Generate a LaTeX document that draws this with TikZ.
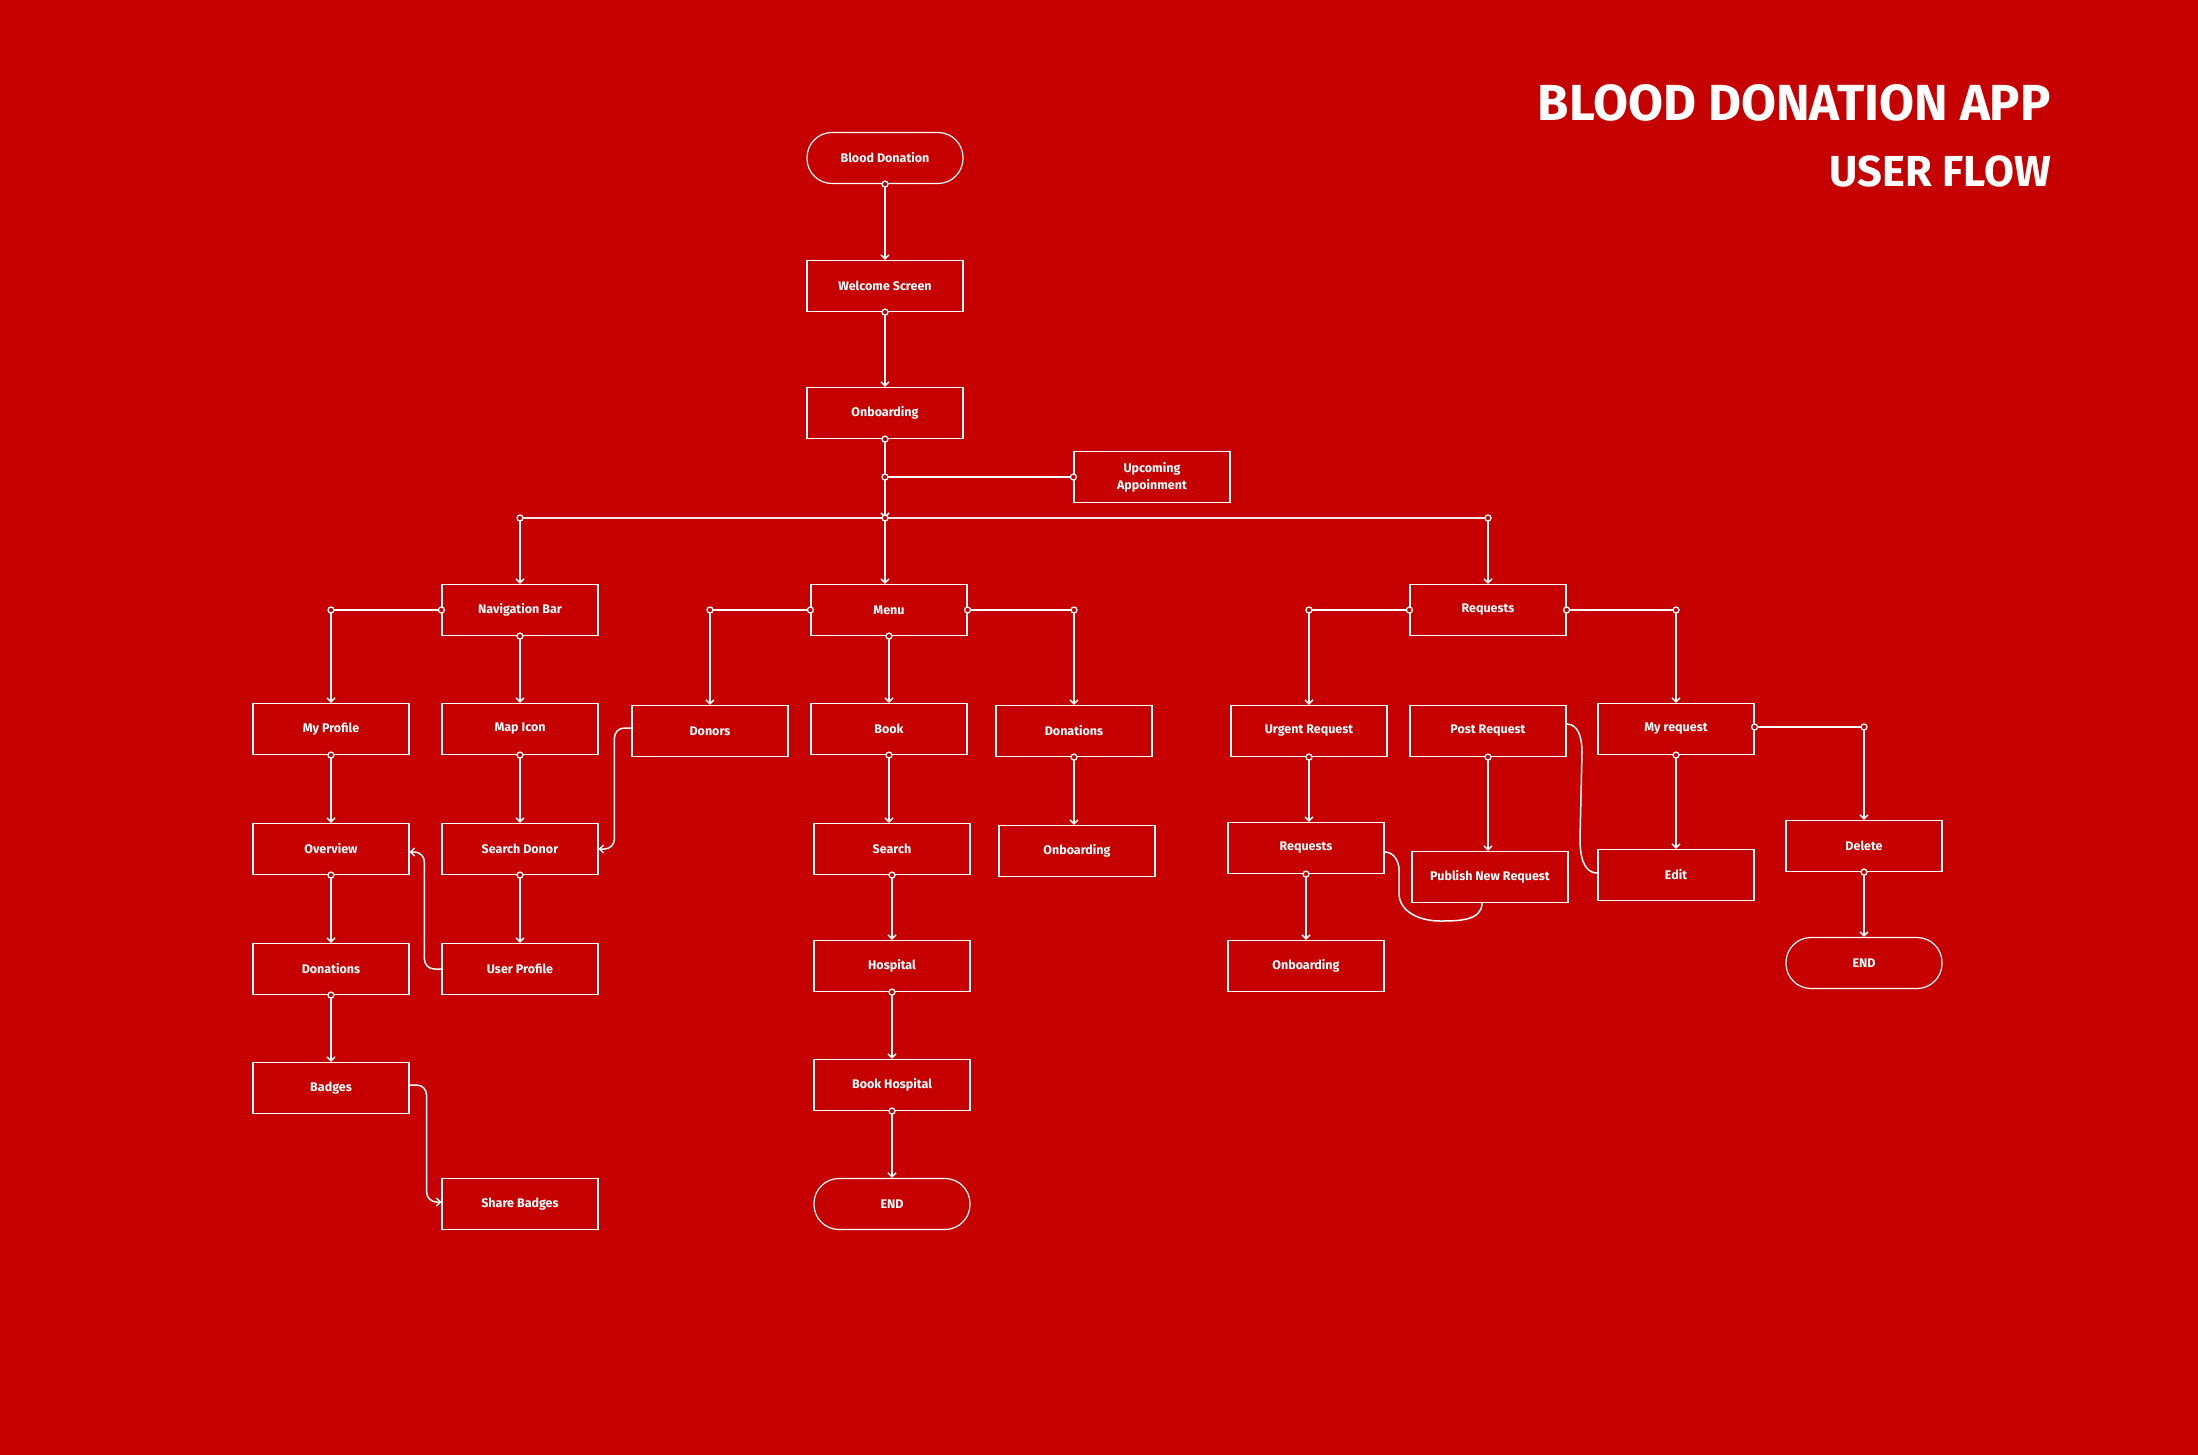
\documentclass[tikz,border=0pt]{standalone}
\usepackage{fontspec}
\setmainfont{Fira Sans}
\usetikzlibrary{arrows.meta,calc}
\definecolor{bg}{HTML}{C60000}
\newcommand\vlk[2]{\draw[arr] (#1.south) -- (#1.south |- #2.north) node[pos=0,dot]{};}
\newcommand\elk[3]{\draw[arr] (#1.#2) -| node[pos=0,dot]{} node[pos=0.5,dot]{} (#3.north);}
\begin{document}
\begin{tikzpicture}[x=1pt,y=-1pt,
  box/.style={draw=white, line width=1.2pt, minimum width=156pt, minimum height=51pt, inner sep=0pt, text=white, font=\bfseries\fontsize{12.5}{17}\selectfont, align=center},
  pill/.style={box, rounded corners=25pt},
  link/.style={draw=white, line width=1.5pt},
  arr/.style={link, -{Straight Barb[length=4pt,width=8pt]}},
  plain/.style={link},
  dot/.style={circle, draw=white, fill=bg, line width=1.3pt, minimum size=6pt, inner sep=0pt},
  titlea/.style={text=white, font=\bfseries\fontsize{50.7}{60}\selectfont, inner sep=0pt, anchor=base east},
  titleb/.style={text=white, font=\bfseries\fontsize{43.4}{50}\selectfont, inner sep=0pt, anchor=base east}
]
\fill[bg] (0,0) rectangle (2198,1455);
\useasboundingbox (0,0) rectangle (2198,1455);

% title
\node[titlea] (t1) at (2051,121) {BLOOD DONATION APP};
\node[titleb] (t2) at (2051,187) {USER FLOW};

% nodes
\node[pill] (bd) at (885,158) {Blood Donation};
\node[box] (welcome) at (885,286) {Welcome Screen};
\node[box] (onb) at (885,413) {Onboarding};
\node[box] (upc) at (1152,477) {Upcoming\\Appoinment};

\node[box] (nav) at (520,610) {Navigation Bar};
\node[box] (menu) at (889,610) {Menu};
\node[box] (req) at (1488,610) {Requests};

\node[box] (myprof) at (331,729) {My Profile};
\node[box] (map) at (520,729) {Map Icon};
\node[box] (donors) at (710,731) {Donors};
\node[box] (book) at (889,729) {Book};
\node[box] (donR) at (1074,731) {Donations};
\node[box] (urgent) at (1309,731) {Urgent Request};
\node[box] (post) at (1488,731) {Post Request};
\node[box] (myreq) at (1676,729) {My request};

\node[box] (overview) at (331,849) {Overview};
\node[box] (sdonor) at (520,849) {Search Donor};
\node[box] (search) at (892,849) {Search};
\node[box] (onbR) at (1077,851) {Onboarding};
\node[box] (reqs2) at (1306,848) {Requests};
\node[box] (publish) at (1490,877) {Publish New Request};
\node[box] (edit) at (1676,875) {Edit};
\node[box] (delete) at (1864,846) {Delete};

\node[box] (donL) at (331,969) {Donations};
\node[box] (uprof) at (520,969) {User Profile};
\node[box] (hosp) at (892,966) {Hospital};
\node[box] (onb2) at (1306,966) {Onboarding};
\node[pill] (endR) at (1864,963) {END};

\node[box] (badges) at (331,1088) {Badges};
\node[box] (bookh) at (892,1085) {Book Hospital};

\node[box] (share) at (520,1204) {Share Badges};
\node[pill] (endM) at (892,1204) {END};

% trunk and bus
\coordinate (busy) at (0,518);
\coordinate (bj) at (onb.south |- busy);
\coordinate (bl) at (nav.north |- busy);
\coordinate (br) at (req.north |- busy);
\draw[link, line width=1.2pt, white!90!bg] (bl) -- (br);
\draw[arr] (onb.south) -- (bj) node[pos=0,dot]{};
\draw[arr] (bj) -- (bj |- menu.north);
\draw[arr] (bl) -- (nav.north);
\draw[arr] (br) -- (req.north);
\draw[plain] (onb.south |- upc.west) -- (upc.west) node[pos=0,dot]{} node[pos=1,dot]{};
\node[dot] at (bl) {};
\node[dot] at (br) {};
\node[dot] at (bj) {};

% vertical links
\vlk{bd}{welcome}
\vlk{welcome}{onb}
\vlk{nav}{map}
\vlk{map}{sdonor}
\vlk{sdonor}{uprof}
\vlk{myprof}{overview}
\vlk{overview}{donL}
\vlk{donL}{badges}
\vlk{menu}{book}
\vlk{book}{search}
\vlk{search}{hosp}
\vlk{hosp}{bookh}
\vlk{bookh}{endM}
\vlk{donR}{onbR}
\vlk{urgent}{reqs2}
\vlk{reqs2}{onb2}
\vlk{post}{publish}
\vlk{myreq}{edit}
\vlk{delete}{endR}

% elbow links
\elk{nav}{west}{myprof}
\elk{menu}{west}{donors}
\elk{menu}{east}{donR}
\elk{req}{west}{urgent}
\elk{req}{east}{myreq}
\draw[arr] ([yshift=2pt]myreq.east) -| node[pos=0,dot]{} node[pos=0.5,dot]{} (delete.north);

% rounded links
\draw[arr, rounded corners=10pt] ([yshift=3pt]donors.west) -- ++(-17,0) |- (sdonor.east);
\draw[arr, rounded corners=10pt] (uprof.west) -- ++(-17,0) |- ([yshift=-3pt]overview.east);
\draw[arr, rounded corners=10pt] ([yshift=3pt]badges.east) -- ++(17,0) |- ([yshift=2pt]share.west);

% curved links
\draw[plain] ([yshift=-4pt]reqs2.east) to[out=0,in=90] (1399,870) -- (1399,893)
  to[out=-90,in=180] (1440,921) to[out=0,in=-90] ([xshift=-8pt]publish.south);
\draw[plain] ([yshift=7pt]post.east) to[out=0,in=90] (1582,752) -- (1580,838)
  to[out=-90,in=180] ([yshift=2pt]edit.west);
\end{tikzpicture}
\end{document}
